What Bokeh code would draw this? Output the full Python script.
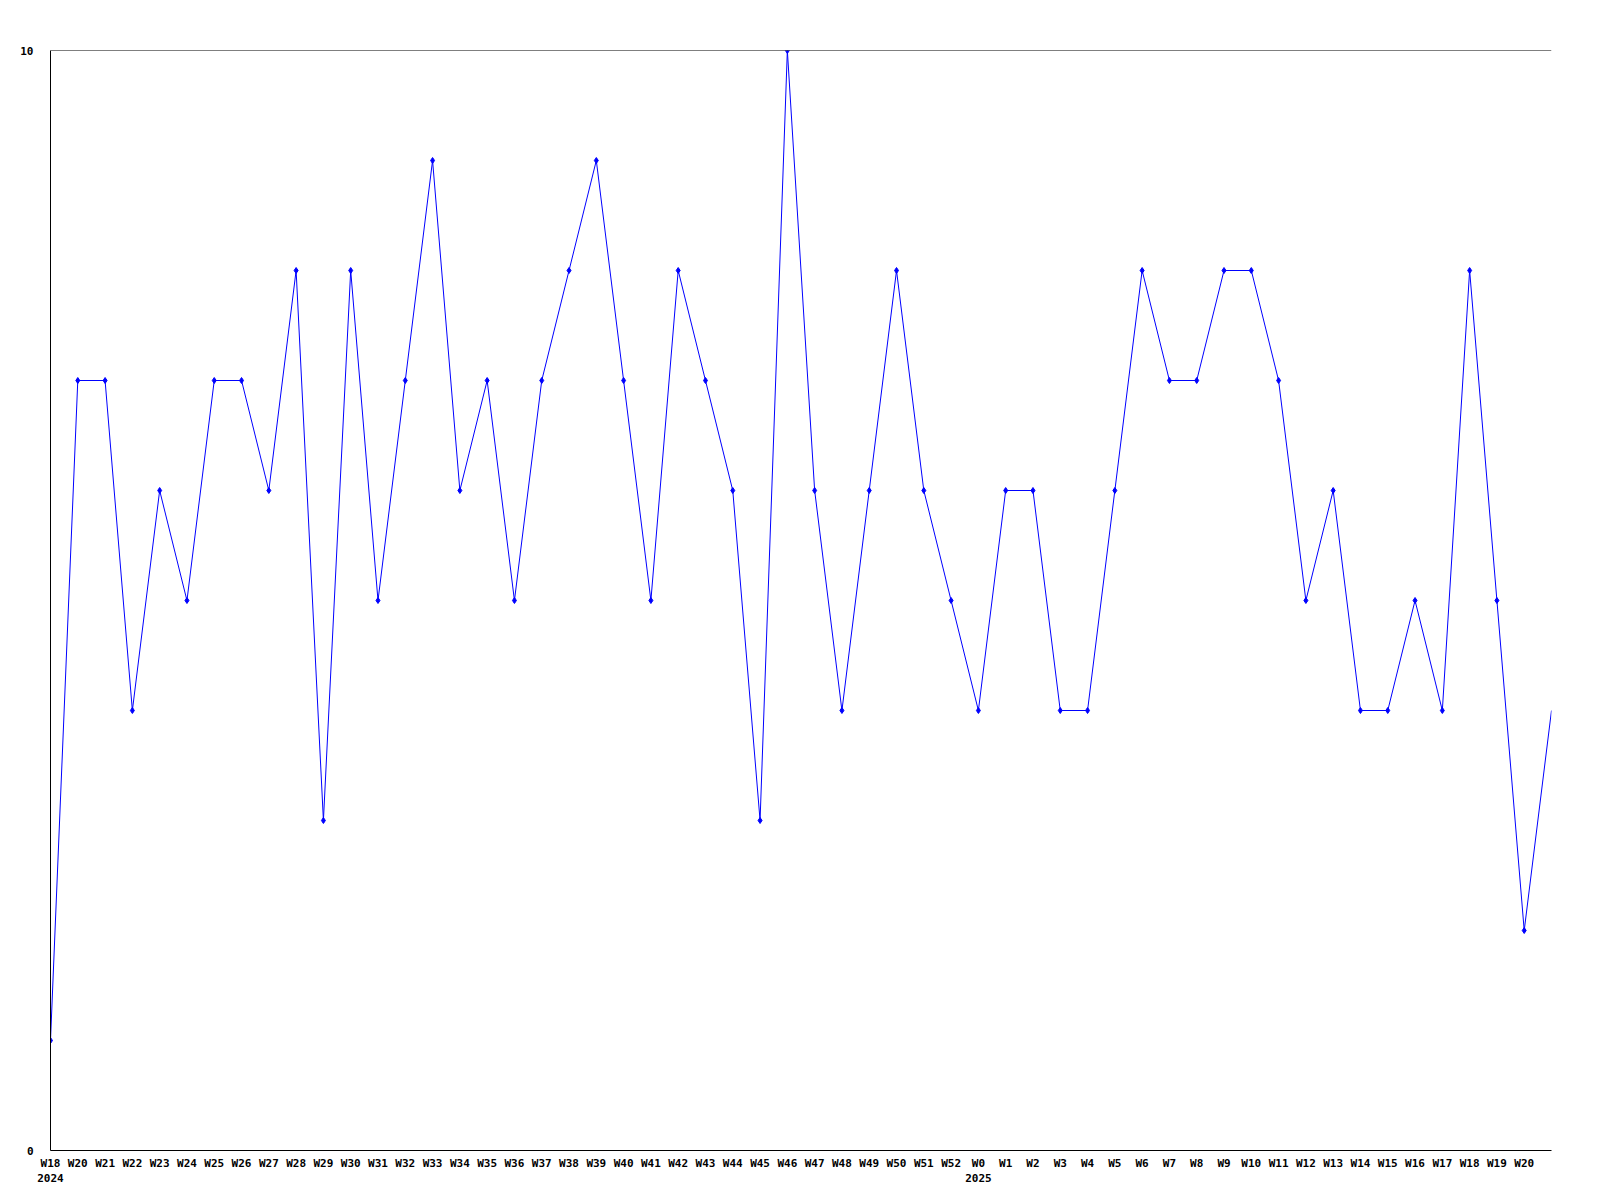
from bokeh.plotting import figure
from bokeh.models import FixedTicker, Span, Range1d, LinearAxis
from bokeh.embed import file_html
from bokeh.resources import INLINE

# Week labels (one per plotted point)
weeks = ["W18", "W20", "W21", "W22", "W23", "W24", "W25", "W26", "W27", "W28",
         "W29", "W30", "W31", "W32", "W33", "W34", "W35", "W36", "W37", "W38",
         "W39", "W40", "W41", "W42", "W43", "W44", "W45", "W46", "W47", "W48",
         "W49", "W50", "W51", "W52", "W0", "W1", "W2", "W3", "W4", "W5",
         "W6", "W7", "W8", "W9", "W10", "W11", "W12", "W13", "W14", "W15",
         "W16", "W17", "W18", "W19", "W20"]
# Values; the last value continues past the final labelled week (line runs to the edge)
values = [1, 7, 7, 4, 6, 5, 7, 7, 6, 8,
          3, 8, 5, 7, 9, 6, 7, 5, 7, 8,
          9, 7, 5, 8, 7, 6, 3, 10, 6, 4,
          6, 8, 6, 5, 4, 6, 6, 4, 4, 6,
          8, 7, 7, 8, 8, 7, 5, 6, 4, 4,
          5, 4, 8, 5, 2, 4]
years = ["2024", "2025"]
year_index = [0, 34]
y_ticks = [0, 10]

FONT = "DejaVu Sans Mono"

xs = list(range(len(values)))
mx = list(range(len(weeks)))

p = figure(width=1590, height=1190, output_backend="svg", toolbar_location=None,
           x_range=Range1d(0, len(values) - 1), y_range=Range1d(0, 10),
           min_border_left=50, min_border_top=50, min_border_right=39,
           min_border_bottom=40)
p.outline_line_color = None
p.xgrid.visible = False
p.ygrid.visible = False
p.background_fill_color = "white"
p.border_fill_color = "white"

p.line(xs, values, line_color="#0000ff", line_width=1)
p.scatter(mx, values[:len(weeks)], marker="diamond", size=6,
          fill_color="#0000ff", line_color="#0000ff")

# top border line
p.add_layout(Span(location=10, dimension="width", line_color="black", line_width=1))


def style_axis(ax, standoff):
    ax.major_tick_out = 0
    ax.major_tick_in = 0
    ax.minor_tick_out = 0
    ax.minor_tick_in = 0
    ax.major_label_standoff = standoff
    ax.major_label_text_font = FONT
    ax.major_label_text_font_style = "bold"
    ax.major_label_text_font_size = "11px"
    ax.major_label_text_color = "black"


xa = p.xaxis[0]
xa.ticker = FixedTicker(ticks=mx)
xa.major_label_overrides = {i: w for i, w in enumerate(weeks)}
xa.axis_line_color = "black"
style_axis(xa, 6)

ya = p.yaxis[0]
ya.ticker = FixedTicker(ticks=y_ticks)
ya.axis_line_color = "black"
style_axis(ya, 17)

# year row below the week labels
yr_axis = LinearAxis(ticker=FixedTicker(ticks=year_index),
                     major_label_overrides={i: y for i, y in zip(year_index, years)})
yr_axis.axis_line_color = None
style_axis(yr_axis, 1)
p.add_layout(yr_axis, "below")

open("out.html", "w").write(file_html(p, INLINE))
